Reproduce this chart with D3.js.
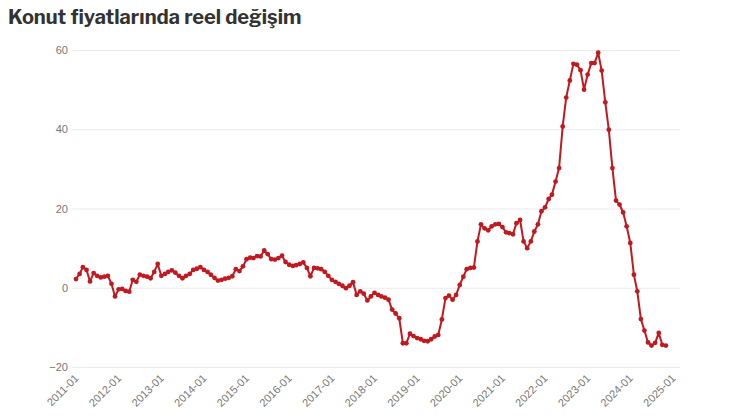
<!DOCTYPE html>
<html>
<head>
<meta charset="utf-8">
<script src="https://cdn.jsdelivr.net/npm/d3@7"></script>
<style>
	body { margin: 0; background: #fff; font-family: "Libre Franklin", Inter, "Noto Sans", sans-serif; }
	.title { font-size: 20px; font-weight: 700; fill: #333; }
	.tick text { fill: #777; font-size: 11px; }
</style>
</head>
<body>
<svg id="chart" width="730" height="420"></svg>
<script>
// monthly real change, starting 2011-01
const startMonth = '2011-01';
const values = [
	2.2, 3.5, 5.2, 4.5, 1.6, 3.7, 3, 2.6, 2.8, 3, 1, -2.2,
	-0.4, -0.3, -0.8, -1, 2, 1.5, 3.3, 3, 2.8, 2.4, 4, 6,
	3, 3.5, 4, 4.4, 3.8, 3, 2.4, 3, 3.5, 4.5, 4.8, 5.2,
	4.5, 4, 3.3, 2.5, 1.8, 2, 2.3, 2.5, 2.9, 4.7, 4.2, 5.4,
	7.2, 7.6, 7.5, 8, 7.9, 9.4, 8.5, 7.2, 7.1, 7.5, 8.1, 6.5,
	5.8, 5.5, 5.7, 6, 6.4, 5, 2.9, 5, 4.9, 4.7, 4, 3,
	2, 1.5, 1, 0.5, -0.1, 0.5, 1.4, -1.8, -0.9, -1.5, -3.2, -2.2,
	-1.3, -1.8, -2.2, -2.5, -3, -5.5, -6.5, -7.7, -14, -14, -11.6, -12.2,
	-12.7, -13, -13.4, -13.5, -13, -12.3, -11.9, -8, -2.6, -2, -3, -1.8,
	0.7, 2.8, 4.7, 5, 5.1, 11.7, 16, 15, 14.5, 15.5, 16, 16.1,
	15.3, 14, 13.8, 13.5, 16.3, 17.1, 11.7, 10, 11.7, 14.2, 16, 19.3,
	20.3, 22.4, 23.5, 26.8, 30.2, 40.7, 48, 52.3, 56.5, 56.3, 54.9, 50,
	53.8, 56.7, 56.7, 59.3, 54.8, 46.8, 39.9, 30.2, 22, 21, 19, 15.5,
	11.3, 3.3, -0.9, -7.9, -10.8, -13.8, -14.6, -13.9, -11.4, -14.4, -14.6
];
const yTicks = [-20, 0, 20, 40, 60];
const xTickYears = d3.range(2011, 2026);

const parse = d3.timeParse('%Y-%m');
const start = parse(startMonth);
const data = values.map((v, i) => ({ date: d3.timeMonth.offset(start, i), value: v }));

const svg = d3.select('#chart');

svg.append('text')
	.attr('class', 'title')
	.attr('x', 8)
	.attr('y', 24)
	.text('Konut fiyatlarında reel değişim');

let x = d3.scaleTime()
	.domain([parse('2011-01'), parse('2025-01')])
	.range([76, 673]);

let y = d3.scaleLinear()
	.domain([-20, 60])
	.range([367, 50]);

// grid + y labels
let yAxis = svg.append('g')
	.attr('transform', 'translate(72,0)')
	.call(
		d3.axisLeft(y).tickValues(yTicks).tickSize(-608).tickPadding(6)
	);
yAxis.select('.domain').remove();
yAxis.selectAll('.tick line').attr('stroke', '#ebebeb');
yAxis.selectAll('.tick text').attr('x', -4);

// x labels
let xAxis = svg.append('g')
	.attr('transform', 'translate(0,372)')
	.call(
		d3.axisBottom(x)
			.tickValues(xTickYears.map((yr) => new Date(yr, 0, 1)))
			.tickFormat(d3.timeFormat('%Y-%m'))
			.tickSize(0)
	);
xAxis.select('.domain').remove();
xAxis.selectAll('.tick text')
	.attr('text-anchor', 'end')
	.attr('dy', '0.35em')
	.attr('transform', 'translate(-2,2) rotate(-45)');

let line = d3.line()
	.x((d) => x(d.date))
	.y((d) => y(d.value));

svg.append('path')
	.datum(data)
	.attr('fill', 'none')
	.attr('stroke', '#c1191f')
	.attr('stroke-width', 2)
	.attr('stroke-linejoin', 'round')
	.attr('d', line);

svg.selectAll('.dot')
	.data(data)
	.enter()
	.append('circle')
	.attr('class', 'dot')
	.attr('cx', (d) => x(d.date))
	.attr('cy', (d) => y(d.value))
	.attr('r', 2.4)
	.attr('fill', '#c1191f');
</script>
</body>
</html>
